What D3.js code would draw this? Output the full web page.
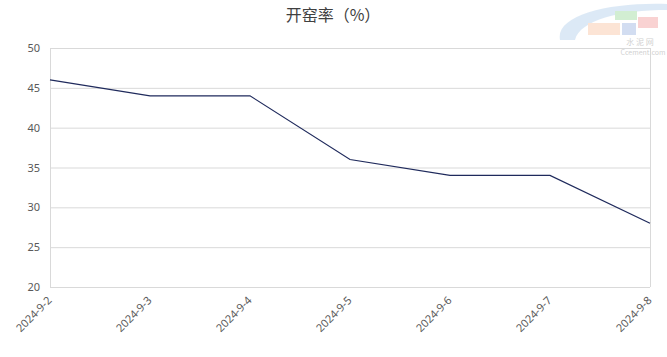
<!DOCTYPE html>
<html><head><meta charset="utf-8">
<script src="https://cdn.jsdelivr.net/npm/d3@7"></script>
<style>body{margin:0;background:#fff;font-family:"Noto Sans CJK SC","Noto Sans",sans-serif;}</style>
</head><body>
<svg id="c" width="667" height="357"></svg>
<script>
const categories = ["2024-9-2","2024-9-3","2024-9-4","2024-9-5","2024-9-6","2024-9-7","2024-9-8"];
const values = [46, 44, 44, 36, 34, 34, 28];
const yTicks = [20, 25, 30, 35, 40, 45, 50];
const title = "开窑率（%）";

const svg = d3.select("#c");
const m = {l:50, r:650, t:48, b:287};

// watermark
const wm = svg.append("g").attr("opacity",0.35);
wm.append("path").attr("d","M560,40 C555,15 610,2 667,4 L667,10 C620,10 580,20 575,40 Z").attr("fill","#9ec3e6");
wm.append("rect").attr("x",615).attr("y",11).attr("width",22).attr("height",9).attr("fill","#7fd07f");
wm.append("rect").attr("x",588).attr("y",23).attr("width",32).attr("height",12).attr("fill","#f7b58a");
wm.append("rect").attr("x",622).attr("y",23).attr("width",14).attr("height",12).attr("fill","#7f9fd8");
wm.append("rect").attr("x",638).attr("y",17).attr("width",20).attr("height",11).attr("fill","#f08080");
wm.append("text").attr("x",640).attr("y",45).attr("text-anchor","middle").attr("font-size",8).attr("fill","#777").text("水 泥 网");
wm.append("text").attr("x",643).attr("y",55).attr("text-anchor","middle").attr("font-size",7).attr("fill","#777").text("Ccement.com");

const x = d3.scalePoint().domain(categories).range([m.l, m.r]).padding(0);
const y = d3.scaleLinear().domain([20,50]).range([m.b, m.t]);

// gridlines
svg.append("g").selectAll("line").data(yTicks).join("line")
  .attr("x1",m.l).attr("x2",m.r).attr("y1",d=>y(d)+0.5).attr("y2",d=>y(d)+0.5)
  .attr("stroke","#d9d9d9").attr("stroke-width",1);
svg.append("line").attr("x1",m.l+0.5).attr("x2",m.l+0.5).attr("y1",m.t).attr("y2",m.b)
  .attr("stroke","#d9d9d9");
svg.append("line").attr("x1",m.r+0.5).attr("x2",m.r+0.5).attr("y1",m.t).attr("y2",m.b)
  .attr("stroke","#d9d9d9");

// y axis
const ya = svg.append("g").attr("transform",`translate(${m.l},0)`)
  .call(d3.axisLeft(y).tickValues(yTicks).tickSize(0).tickPadding(10));
ya.select(".domain").remove();
ya.selectAll("text").attr("font-size",11).attr("fill","#595959").attr("font-family","Noto Sans, sans-serif");

// x axis
const xa = svg.append("g").attr("transform",`translate(0,${m.b})`)
  .call(d3.axisBottom(x).tickSize(0).tickPadding(0));
xa.select(".domain").remove();
xa.selectAll("text").attr("font-size",11).attr("fill","#595959").attr("font-family","Noto Sans, sans-serif")
  .attr("text-anchor","end").attr("dy","0").attr("transform","translate(2,14) rotate(-45)");

// line
svg.append("path").datum(values)
  .attr("d", d3.line().x((d,i)=>x(categories[i])).y(d=>y(d)))
  .attr("fill","none").attr("stroke","#1f2a5c").attr("stroke-width",1.2);

// title
svg.append("text").attr("x",333).attr("y",21).attr("text-anchor","middle")
  .attr("font-size",16).attr("fill","#404040").text(title);
</script>
</body></html>
